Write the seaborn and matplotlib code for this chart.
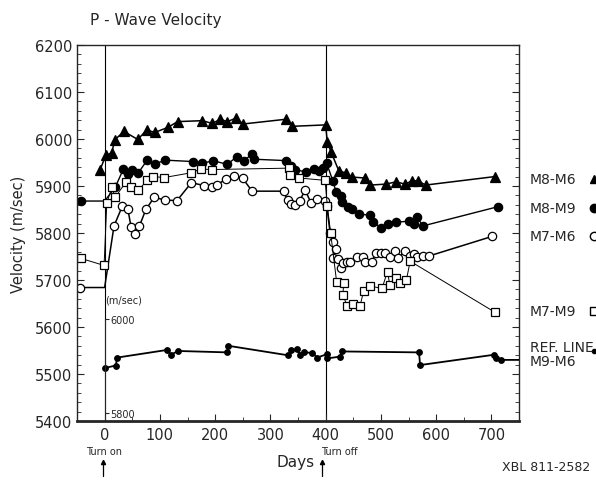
import matplotlib
matplotlib.use("Agg")
import matplotlib.pyplot as plt
import seaborn as sns
import pandas as pd
from matplotlib.ticker import MultipleLocator
from matplotlib.lines import Line2D

# ---------------- data ----------------
m86_day = [-8, 2, 13, 18, 35, 60, 76, 91, 115, 132, 177, 195, 209, 222, 237, 251, 328, 340,
           400, 403, 410, 424, 436, 448, 471, 481, 509, 528, 543, 557, 567, 581, 706]
m86_vel = [5935, 5965, 5970, 5998, 6016, 5999, 6019, 6014, 6025, 6037, 6039, 6033, 6042, 6037,
           6044, 6032, 6042, 6027, 6030, 5994, 5972, 5932, 5928, 5919, 5917, 5902, 5904, 5909,
           5904, 5911, 5911, 5902, 5920]

m89_day = [-42, 0, 19, 34, 42, 50, 61, 77, 91, 110, 160, 177, 196, 222, 239, 252, 267, 270,
           329, 337, 344, 364, 379, 388, 396, 402, 413, 419, 427, 429, 440, 447, 461, 481, 486,
           501, 512, 527, 550, 560, 565, 576, 712]
m89_vel = [5868, 5868, 5897, 5936, 5925, 5935, 5928, 5955, 5947, 5955, 5952, 5948, 5954, 5946,
           5962, 5953, 5969, 5957, 5954, 5943, 5935, 5930, 5936, 5932, 5939, 5948, 5911, 5887,
           5878, 5867, 5856, 5852, 5840, 5838, 5824, 5810, 5819, 5823, 5825, 5819, 5835, 5815,
           5856]

m76_day = [-44, 0, 17, 32, 42, 48, 55, 63, 75, 90, 109, 131, 157, 180, 194, 204, 220, 235, 250,
           267, 324, 331, 337, 345, 353, 363, 374, 384, 399, 402, 408, 414, 418, 413, 423, 428,
           432, 438, 445, 457, 468, 472, 484, 491, 500, 508, 517, 526, 531, 544, 552, 560, 565,
           576, 587, 702]
m76_vel = [5684, 5684, 5815, 5857, 5851, 5812, 5797, 5815, 5851, 5876, 5870, 5869, 5907, 5901,
           5897, 5903, 5915, 5921, 5916, 5889, 5889, 5870, 5861, 5860, 5869, 5891, 5863, 5873,
           5869, 5858, 5801, 5781, 5766, 5747, 5745, 5725, 5736, 5738, 5738, 5748, 5750, 5738,
           5739, 5757, 5757, 5757, 5748, 5761, 5747, 5762, 5751, 5755, 5748, 5752, 5751, 5793]

m79_day = [-43, -1, 4, 13, 19, 39, 47, 61, 77, 88, 108, 156, 174, 194, 334, 336, 352, 399, 403,
           409, 420, 433, 431, 439, 450, 462, 469, 481, 502, 512, 516, 527, 534, 546, 553, 707]
m79_vel = [5746, 5731, 5864, 5897, 5876, 5909, 5897, 5891, 5912, 5920, 5918, 5928, 5936, 5935,
           5938, 5923, 5917, 5912, 5858, 5801, 5695, 5693, 5669, 5645, 5649, 5644, 5677, 5687,
           5682, 5718, 5690, 5704, 5694, 5699, 5740, 5631]

# reference line M9-M6, in the inset scale (m/sec, 5800-6000)
ref_day = [1, 20, 23, 112, 120, 133, 222, 224, 331, 338, 349, 354, 360, 376, 385, 402, 402,
           426, 430, 569, 571, 705, 708, 717, 770]
ref_vel = [5896, 5901, 5918, 5934, 5924, 5932, 5929, 5943, 5923, 5933, 5936, 5923, 5929, 5928,
           5918, 5925, 5916, 5920, 5931, 5929, 5902, 5924, 5917, 5913, 5913]

event_days = [0, 400]
event_labels = ["Turn on", "Turn off"]
y_ticks = [5400, 5500, 5600, 5700, 5800, 5900, 6000, 6100, 6200]
x_ticks = [0, 100, 200, 300, 400, 500, 600, 700]
inset_ticks = [5800, 6000]

# ---------------- figure ----------------
sns.set_style("ticks")
plt.rcParams["font.family"] = ["DejaVu Sans"]

W, H = 596, 481
fig = plt.figure(figsize=(W / 100, H / 100), dpi=100)
rect = [77 / W, (H - 422) / H, 442 / W, 376 / H]
ax = fig.add_axes(rect)

def series(ax, d, v, marker, mfc, ms, lw=1.0, markevery=None):
    df = pd.DataFrame({"day": d, "vel": v})
    kw = {}
    if markevery is not None:
        kw["markevery"] = markevery
    sns.lineplot(data=df, x="day", y="vel", estimator=None, sort=False, ax=ax,
                 color="black", lw=lw, marker=marker, markersize=ms,
                 markerfacecolor=mfc, markeredgecolor="black", markeredgewidth=0.9,
                 **kw)

series(ax, m86_day, m86_vel, "^", "black", 7, lw=1.1)
skip = [i for i in range(len(m89_day)) if i != 1]
series(ax, m89_day, m89_vel, "o", "black", 6, lw=1.0, markevery=skip)
skip = [i for i in range(len(m76_day)) if i != 1]
series(ax, m76_day, m76_vel, "o", "white", 6, lw=1.1, markevery=skip)
series(ax, m79_day, m79_vel, "s", "white", 5.5, lw=0.7)

for d in event_days:
    ax.axvline(d, color="black", lw=0.8, zorder=0)

ax.set_xlim(-50, 750)
ax.set_ylim(5400, 6200)
ax.set_xticks(x_ticks)
ax.set_yticks(y_ticks)
ax.xaxis.set_minor_locator(MultipleLocator(50))
ax.yaxis.set_minor_locator(MultipleLocator(20))
ax.tick_params(which="both", direction="in", right=True, labelsize=10.5)
ax.tick_params(which="major", length=5)
ax.tick_params(which="minor", length=3)
ax.tick_params(axis="x", pad=4)
for s in ax.spines.values():
    s.set_linewidth(1.0)
ax.spines["bottom"].set_linewidth(2.0)
ax.set_xlabel("")
ax.set_ylabel("Velocity (m/sec)", fontsize=10.5, labelpad=6)

# ---------------- inset axis for reference line ----------------
ax2 = fig.add_axes(rect)
ax2.patch.set_visible(False)
ax2.set_xlim(ax.get_xlim())
ax2.set_ylim(5783, 6583)
series(ax2, ref_day, ref_vel, "o", "black", 4, lw=1.3)
for k in ["left", "top", "bottom"]:
    ax2.spines[k].set_visible(False)
ax2.spines["right"].set_position(("data", 0))
ax2.spines["right"].set_bounds(inset_ticks[0], inset_ticks[-1])
ax2.spines["right"].set_linewidth(0.8)
ax2.yaxis.tick_right()
ax2.set_yticks(inset_ticks)
ax2.set_yticklabels([str(t) for t in inset_ticks])
ax2.tick_params(axis="y", direction="out", length=3, pad=1, labelsize=7)
ax2.set_xticks([])
ax2.set_xlabel("")
ax2.set_ylabel("")
ax2.text(0, 6000 + 30, "(m/sec)", fontsize=7, ha="left", va="bottom")

# ---------------- texts ----------------
def fp(x, y):
    return (x / W, 1 - y / H)

fig.text(*fp(90, 20), "P - Wave Velocity", fontsize=11, ha="left", va="center")
fig.text(*fp(296, 462), "Days", fontsize=11, ha="center", va="center")
fig.text(*fp(590, 468), "XBL 811-2582", fontsize=9, ha="right", va="center")

for d, lab, x in zip(event_days, event_labels, [104, 339]):
    fig.text(*fp(x, 452), lab, fontsize=7, ha="center", va="center")

for x in [103, 322]:
    fig.add_artist(plt.Line2D([x / W, x / W], [1 - 477 / H, 1 - 463 / H],
                              color="black", lw=0.9, transform=fig.transFigure))
    fig.add_artist(plt.Line2D([x / W], [1 - 463 / H], marker="^", ms=3,
                              color="black", transform=fig.transFigure))

legend_items = [("M8-M6", 180, "^", "black"), ("M8-M9", 209, "o", "black"),
                ("M7-M6", 237, "o", "white"), ("M7-M9", 312, "s", "white")]
for lab, y, mk, fc in legend_items:
    fig.text(*fp(530, y), lab, fontsize=10, ha="left", va="center")
    fig.add_artist(Line2D([594 / W], [1 - y / H], marker=mk, ms=6, markerfacecolor=fc,
                          markeredgecolor="black", color="black",
                          transform=fig.transFigure))
fig.text(*fp(530, 348), "REF. LINE", fontsize=10, ha="left", va="center")
fig.text(*fp(530, 362), "M9-M6", fontsize=10, ha="left", va="center")
fig.add_artist(Line2D([594 / W], [1 - 352 / H], marker="o", ms=3, color="black",
                      transform=fig.transFigure))

fig.savefig("out.png", dpi=100)
